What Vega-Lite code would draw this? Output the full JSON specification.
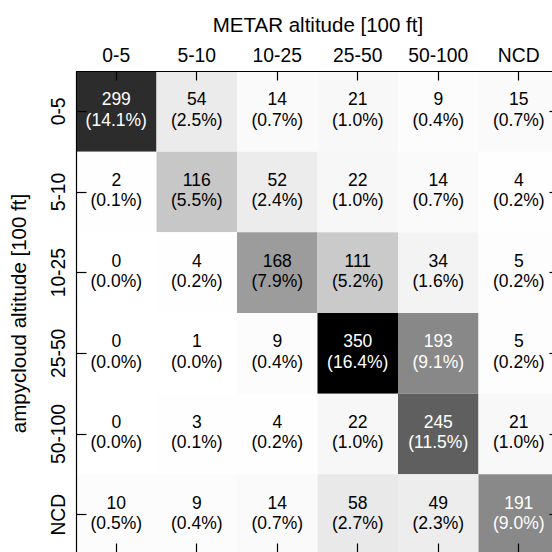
{
  "$schema": "https://vega.github.io/schema/vega-lite/v6.json",
  "width": 476,
  "height": 481,
  "autosize": {"type": "none"},
  "padding": {"left": 76, "top": 71, "right": 0, "bottom": 0},
  "background": "white",
  "config": {
    "view": {"stroke": null},
    "font": "Liberation Sans",
    "axis": {"grid": false, "ticks": true, "domainColor": "black", "domainWidth": 1.2, "tickColor": "black", "tickWidth": 1.2, "labelColor": "black", "titleColor": "black", "titleFontWeight": "normal", "labelOverlap": false, "labelFlush": false}
  },
  "data": {
    "values": [
      {"amp": "0-5", "metar": "0-5", "n": 299, "pct": "(14.1%)"},
      {"amp": "0-5", "metar": "5-10", "n": 54, "pct": "(2.5%)"},
      {"amp": "0-5", "metar": "10-25", "n": 14, "pct": "(0.7%)"},
      {"amp": "0-5", "metar": "25-50", "n": 21, "pct": "(1.0%)"},
      {"amp": "0-5", "metar": "50-100", "n": 9, "pct": "(0.4%)"},
      {"amp": "0-5", "metar": "NCD", "n": 15, "pct": "(0.7%)"},
      {"amp": "5-10", "metar": "0-5", "n": 2, "pct": "(0.1%)"},
      {"amp": "5-10", "metar": "5-10", "n": 116, "pct": "(5.5%)"},
      {"amp": "5-10", "metar": "10-25", "n": 52, "pct": "(2.4%)"},
      {"amp": "5-10", "metar": "25-50", "n": 22, "pct": "(1.0%)"},
      {"amp": "5-10", "metar": "50-100", "n": 14, "pct": "(0.7%)"},
      {"amp": "5-10", "metar": "NCD", "n": 4, "pct": "(0.2%)"},
      {"amp": "10-25", "metar": "0-5", "n": 0, "pct": "(0.0%)"},
      {"amp": "10-25", "metar": "5-10", "n": 4, "pct": "(0.2%)"},
      {"amp": "10-25", "metar": "10-25", "n": 168, "pct": "(7.9%)"},
      {"amp": "10-25", "metar": "25-50", "n": 111, "pct": "(5.2%)"},
      {"amp": "10-25", "metar": "50-100", "n": 34, "pct": "(1.6%)"},
      {"amp": "10-25", "metar": "NCD", "n": 5, "pct": "(0.2%)"},
      {"amp": "25-50", "metar": "0-5", "n": 0, "pct": "(0.0%)"},
      {"amp": "25-50", "metar": "5-10", "n": 1, "pct": "(0.0%)"},
      {"amp": "25-50", "metar": "10-25", "n": 9, "pct": "(0.4%)"},
      {"amp": "25-50", "metar": "25-50", "n": 350, "pct": "(16.4%)"},
      {"amp": "25-50", "metar": "50-100", "n": 193, "pct": "(9.1%)"},
      {"amp": "25-50", "metar": "NCD", "n": 5, "pct": "(0.2%)"},
      {"amp": "50-100", "metar": "0-5", "n": 0, "pct": "(0.0%)"},
      {"amp": "50-100", "metar": "5-10", "n": 3, "pct": "(0.1%)"},
      {"amp": "50-100", "metar": "10-25", "n": 4, "pct": "(0.2%)"},
      {"amp": "50-100", "metar": "25-50", "n": 22, "pct": "(1.0%)"},
      {"amp": "50-100", "metar": "50-100", "n": 245, "pct": "(11.5%)"},
      {"amp": "50-100", "metar": "NCD", "n": 21, "pct": "(1.0%)"},
      {"amp": "NCD", "metar": "0-5", "n": 10, "pct": "(0.5%)"},
      {"amp": "NCD", "metar": "5-10", "n": 9, "pct": "(0.4%)"},
      {"amp": "NCD", "metar": "10-25", "n": 14, "pct": "(0.7%)"},
      {"amp": "NCD", "metar": "25-50", "n": 58, "pct": "(2.7%)"},
      {"amp": "NCD", "metar": "50-100", "n": 49, "pct": "(2.3%)"},
      {"amp": "NCD", "metar": "NCD", "n": 191, "pct": "(9.0%)"}
    ]
  },
  "layer": [
    {
      "mark": {"type": "rect"},
      "encoding": {
        "x": {
          "field": "metar", "type": "nominal",
          "sort": ["0-5", "5-10", "10-25", "25-50", "50-100", "NCD"],
          "scale": {"range": [0, 483], "paddingInner": 0, "paddingOuter": 0},
          "axis": {
            "orient": "top", "zindex": 1, "title": "METAR altitude [100 ft]", "labelAngle": 0, "ticks": true, "domain": true,
            "tickSize": -9, "labelFontSize": 19.3, "labelPadding": 18.5, "labelBaseline": "alphabetic",
            "titleFontSize": 20.5, "titleX": 241.5, "titleY": -40, "titleBaseline": "alphabetic", "titleAlign": "center", "titleAnchor": null
          }
        },
        "y": {
          "field": "amp", "type": "nominal",
          "sort": ["0-5", "5-10", "10-25", "25-50", "50-100", "NCD"],
          "scale": {"range": [0, 484], "paddingInner": 0, "paddingOuter": 0},
          "axis": {
            "orient": "left", "zindex": 1, "title": "ampycloud altitude [100 ft]", "labelAngle": -90, "ticks": true, "domain": true,
            "labelAlign": "center", "labelBaseline": "alphabetic", "labelPadding": 22,
            "tickSize": -10, "labelFontSize": 19.3,
            "titleFontSize": 20.5, "titleX": -50.5, "titleY": 242, "titleAngle": -90, "titleBaseline": "alphabetic", "titleAlign": "center", "titleAnchor": null
          }
        },
        "color": {
          "field": "n", "type": "quantitative",
          "scale": {
            "domain": [0, 43.75, 87.5, 131.25, 175, 218.75, 262.5, 306.25, 350],
            "range": ["#ffffff", "#f0f0f0", "#d9d9d9", "#bdbdbd", "#969696", "#737373", "#525252", "#252525", "#000000"],
            "interpolate": "rgb"
          },
          "legend": null
        }
      }
    },
    {
      "mark": {"type": "text", "baseline": "alphabetic", "align": "center", "dy": -6, "fontSize": 17.5},
      "encoding": {
        "x": {
          "field": "metar", "type": "nominal",
          "sort": ["0-5", "5-10", "10-25", "25-50", "50-100", "NCD"],
          "axis": {"orient": "bottom", "zindex": 1, "title": null, "labels": false, "domain": false, "ticks": true, "tickSize": -9}
        },
        "y": {
          "field": "amp", "type": "nominal",
          "sort": ["0-5", "5-10", "10-25", "25-50", "50-100", "NCD"],
          "axis": {"orient": "right", "zindex": 1, "title": null, "labels": false, "domain": false, "ticks": true, "tickSize": -3}
        },
        "text": {"field": "n", "type": "quantitative"},
        "color": {"condition": {"test": "datum.n > 175", "value": "white"}, "value": "black"}
      }
    },
    {
      "mark": {"type": "text", "baseline": "alphabetic", "align": "center", "dy": 14.3, "fontSize": 17.5},
      "encoding": {
        "x": {"field": "metar", "type": "nominal", "sort": ["0-5", "5-10", "10-25", "25-50", "50-100", "NCD"], "axis": null},
        "y": {"field": "amp", "type": "nominal", "sort": ["0-5", "5-10", "10-25", "25-50", "50-100", "NCD"], "axis": null},
        "text": {"field": "pct", "type": "nominal"},
        "color": {"condition": {"test": "datum.n > 175", "value": "white"}, "value": "black"}
      }
    }
  ],
  "resolve": {"axis": {"x": "independent", "y": "independent"}}
}
